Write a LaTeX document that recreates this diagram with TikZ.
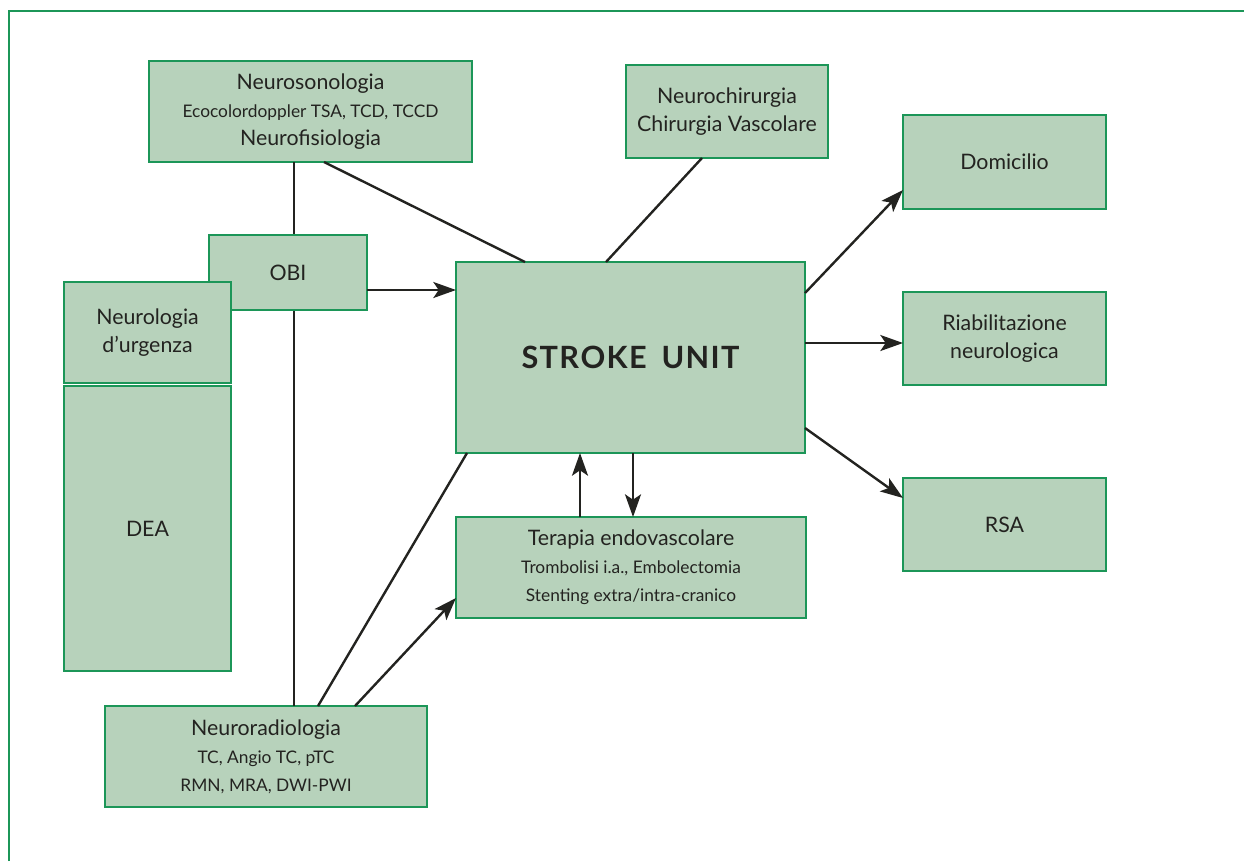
\documentclass[tikz,border=0pt]{standalone}
\usepackage{fontspec}
\setmainfont{Lato}
\usetikzlibrary{arrows.meta,calc}
\definecolor{boxfill}{RGB}{183,210,187}
\definecolor{boxline}{RGB}{28,150,88}
\definecolor{ink}{RGB}{35,35,32}
\newcommand{\sm}{\fontsize{13}{21}\selectfont}
\begin{document}
\begin{tikzpicture}[x=0.75pt,y=-0.75pt,
  box/.style n args={2}{draw=boxline, fill=boxfill, line width=1.1pt,
    minimum width=#1*0.75pt, minimum height=#2*0.75pt,
    inner sep=0pt, outer sep=0pt, align=center, text=ink,
    font=\fontsize{16}{21}\selectfont},
  conn/.style={draw=ink, line width=1.8pt},
  arr/.style={conn, -{Stealth[length=17pt,width=12pt,inset=4pt]}}]
\useasboundingbox (0,0) rectangle (1244,861);
\draw[boxline, line width=1.5pt] (8.5,861) -- (8.5,10.5) -- (1244,10.5);

\node[box={323}{101}] (ns) at (310.5,111.5) {Neurosonologia\\{\sm Ecocolordoppler TSA, TCD, TCCD}\\Neurofisiologia};
\node[box={322}{101}] (nr) at (266,756.5) {Neuroradiologia\\{\sm TC, Angio TC, pTC}\\{\sm RMN, MRA, DWI-PWI}};
\draw[conn] ($(ns.south)+(-16.5,0)$) -- ($(nr.north)+(28,0)$);

\node[box={158}{75}] (obi) at (288,272.5) {OBI};
\node[box={167}{101}] (nu) at (147.5,332.5) {Neurologia\\d’urgenza};
\node[box={167}{285}] (dea) at (147.5,528.5) {DEA};

\node[box={202}{93}] (nc) at (727,111.5) {Neurochirurgia\\Chirurgia Vascolare};
\node[box={349}{191}] (su) at (630.5,357.5) {\fontsize{23}{25}\selectfont\bfseries S\kern1ptT\kern1ptR\kern1ptO\kern1ptK\kern1ptE\ \ U\kern1ptN\kern1ptI\kern1ptT};
\node[box={350}{101}] (te) at (631,567.5) {Terapia endovascolare\\{\sm Trombolisi i.a., Embolectomia}\\{\sm Stenting extra/intra-cranico}};
\node[box={203}{94}] (dom) at (1004.5,162) {Domicilio};
\node[box={203}{93}] (riab) at (1004.5,338.5) {Riabilitazione\\neurologica};
\node[box={203}{93}] (rsa) at (1004.5,524.5) {RSA};

\draw[conn] ($(ns.south)+(13.5,0)$) -- ($(su.north)+(-105.5,0)$);
\draw[conn] ($(nc.south)+(-25,0)$) -- ($(su.north)+(-24.5,0)$);

\coordinate (a) at ($(obi.east)+(0,17.5)$);
\draw[arr] (a) -- (a -| su.west);

\draw[arr] ($(su.north east)+(0,31)$) -- ($(dom.south west)+(0,-19)$);
\coordinate (b) at ($(su.east)+(0,-14.5)$);
\draw[arr] (b) -- (b -| riab.west);
\draw[arr] ($(su.south east)+(0,-25)$) -- ($(rsa.north west)+(0,20)$);

\coordinate (c) at ($(te.north)+(-51,0)$);
\draw[arr] (c) -- (c |- su.south);
\coordinate (d) at ($(su.south)+(2.5,0)$);
\draw[arr] (d) -- (d |- te.north);

\draw[conn] ($(nr.north)+(52,0)$) -- ($(su.south west)+(11,0)$);
\draw[arr] ($(nr.north)+(89,0)$) -- ($(te.south west)+(0,-20)$);
\end{tikzpicture}
\end{document}
